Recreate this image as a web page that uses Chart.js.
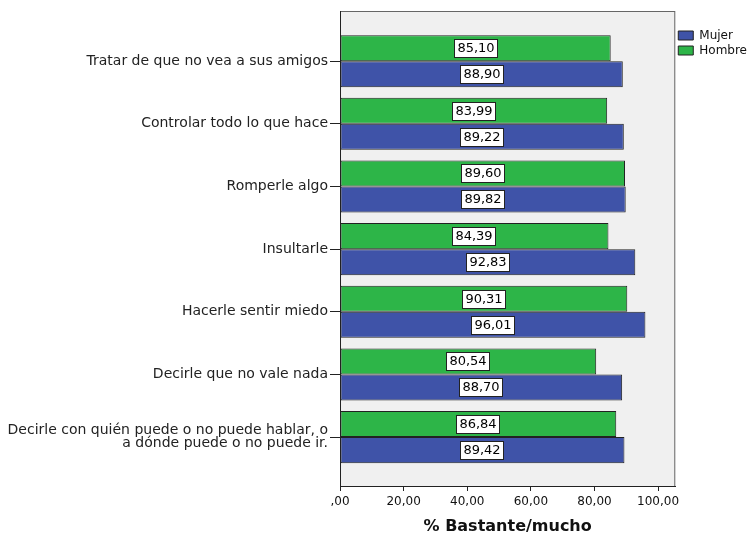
<!DOCTYPE html>
<html>
<head>
<meta charset="utf-8">
<script src="https://cdn.jsdelivr.net/npm/chart.js@4"></script>
<style>body{margin:0;background:#fff}</style>
</head>
<body>
<canvas id="myChart" width="748" height="537"></canvas>
<script>
  const categorias = [
    'Tratar de que no vea a sus amigos',
    'Controlar todo lo que hace',
    'Romperle algo',
    'Insultarle',
    'Hacerle sentir miedo',
    'Decirle que no vale nada',
    ['Decirle con quién puede o no puede hablar, o', 'a dónde puede o no puede ir.']
  ];
  const hombre = [85.10, 83.99, 89.60, 84.39, 90.31, 80.54, 86.84];
  const mujer = [88.90, 89.22, 89.82, 92.83, 96.01, 88.70, 89.42];
  const ticksX = [0, 20, 40, 60, 80, 100];

  // 0 -> ",00", 20 -> "20,00"
  const fmt = v => v === 0 ? ',00' : v.toFixed(2).replace('.', ',');

  const fondo = {
    id: 'fondo',
    beforeDraw(chart) {
      const {ctx, chartArea: a} = chart;
      ctx.save();
      ctx.fillStyle = '#f0f0f0';
      ctx.fillRect(a.left, a.top, a.right - a.left, a.bottom - a.top);
      ctx.strokeStyle = '#666';
      ctx.lineWidth = 1;
      ctx.strokeRect(a.left + 0.5, a.top + 0.5, a.right - a.left - 1, a.bottom - a.top);
      ctx.restore();
    }
  };

  const etiquetas = {
    id: 'etiquetas',
    afterDatasetsDraw(chart) {
      const ctx = chart.ctx;
      ctx.save();
      ctx.font = '13px "DejaVu Sans"';
      ctx.textAlign = 'center';
      ctx.textBaseline = 'middle';
      ctx.lineWidth = 1;
      chart.data.datasets.forEach((ds, di) => {
        chart.getDatasetMeta(di).data.forEach((bar, i) => {
          const txt = fmt(ds.data[i].x);
          const cx = Math.round((bar.x + bar.base) / 2);
          const cy = Math.round(bar.y);
          const w = Math.round(ctx.measureText(txt).width + 7);
          const h = 19;
          const x0 = Math.round(cx - w / 2), y0 = Math.round(cy - h / 2);
          ctx.fillStyle = '#fff';
          ctx.fillRect(x0, y0, w, h);
          ctx.strokeStyle = '#222';
          ctx.strokeRect(x0 + 0.5, y0 + 0.5, w - 1, h - 1);
          ctx.fillStyle = '#000';
          ctx.fillText(txt, cx, cy + 1);
        });
      });
      ctx.restore();
    }
  };

  const data = {
    datasets: [{
      label: 'Hombre',
      backgroundColor: '#2db548',
      borderColor: '#222',
      borderWidth: 1,
      borderSkipped: false,
      data: hombre.map((v, i) => ({x: v, y: i}))
    }, {
      label: 'Mujer',
      backgroundColor: '#3f53a8',
      borderColor: '#222',
      borderWidth: 1,
      borderSkipped: false,
      data: mujer.map((v, i) => ({x: v, y: i}))
    }]
  };

  const config = {
    type: 'bar',
    data: data,
    plugins: [fondo, etiquetas],
    options: {
      indexAxis: 'y',
      responsive: false,
      animation: false,
      layout: {padding: {top: 11, right: -9, bottom: 0, left: 0}},
      datasets: {bar: {categoryPercentage: 0.83, barPercentage: 1}},
      plugins: {
        tooltip: {enabled: false},
        legend: {
          position: 'right',
          align: 'start',
          reverse: true,
          title: {display: true, text: '', font: {size: 10}, padding: {top: 0, bottom: 3.5}},
          labels: {
            boxWidth: 15,
            boxHeight: 9,
            padding: 3,
            color: '#111',
            font: {family: 'DejaVu Sans', size: 12}
          }
        }
      },
      scales: {
        x: {
          type: 'linear',
          min: 0,
          max: 105.4,
          afterBuildTicks: s => { s.ticks = ticksX.map(v => ({value: v})); },
          afterFit: s => { s.height = 51; },
          grid: {drawOnChartArea: false, tickLength: 5, color: '#222'},
          border: {color: '#222'},
          ticks: {
            padding: 4,
            color: '#111',
            font: {family: 'DejaVu Sans', size: 12},
            callback: v => fmt(v)
          },
          title: {
            display: true,
            text: '% Bastante/mucho',
            color: '#111',
            font: {family: 'DejaVu Sans', size: 16, weight: 'bold'},
            padding: {top: 4, bottom: 1}
          }
        },
        y: {
          type: 'linear',
          reverse: true,
          offset: false,
          min: -0.8,
          max: 6.78,
          afterBuildTicks: s => { s.ticks = categorias.map((c, i) => ({value: i})); },
          afterFit: s => { s.width = 340; s.paddingTop = 0; s.paddingBottom = 0; },
          grid: {offset: false, drawOnChartArea: false, tickLength: 10, color: '#222'},
          border: {color: '#222'},
          ticks: {
            autoSkip: false,
            padding: 2,
            color: '#222',
            font: {family: 'DejaVu Sans', size: 14, lineHeight: 0.9},
            callback: v => categorias[v]
          }
        }
      }
    }
  };

  const myChart = new Chart(document.getElementById('myChart'), config);
</script>
</body>
</html>
